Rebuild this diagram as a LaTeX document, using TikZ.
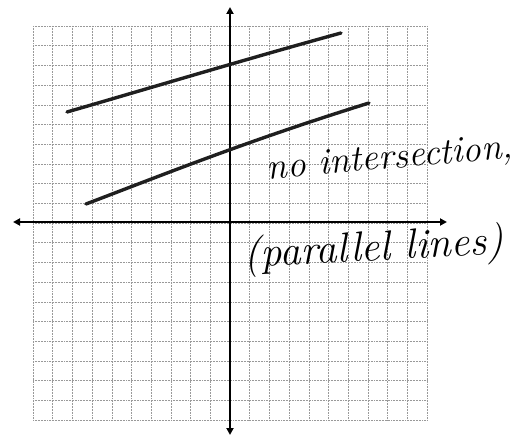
\documentclass[tikz,border=0pt]{standalone}
\usetikzlibrary{arrows.meta}
\begin{document}
\begin{tikzpicture}[x=1pt,y=-1pt,
  gridline/.style={gray!80,line width=0.55pt,densely dotted},
  axisline/.style={line width=2.8pt,{Triangle[length=7pt,width=7pt]}-{Triangle[length=7pt,width=7pt]}},
  penline/.style={line width=3.4pt,black!88,line cap=round},
  hand/.style={font=\itshape,inner sep=0pt}]
\useasboundingbox (0,0) rectangle (523,436);
% grid 20x20 cells
\foreach \i in {0,...,20}{
  \draw[gridline] (33+19.7*\i,26) -- (33+19.7*\i,420);
  \draw[gridline] (33,26+19.7*\i) -- (427,26+19.7*\i);
}
% axes
\coordinate (xl) at (13,222);
\coordinate (xr) at (447,222);
\coordinate (yt) at (230,7);
\coordinate (yb) at (230,435);
\draw[axisline] (xl) -- (xr);
\draw[axisline] (yb) -- (yt);
% parallel lines
\coordinate (a1) at (67,112);
\coordinate (a2) at (341,33);
\coordinate (b1) at (86,204);
\coordinate (b2) at (369,103);
\draw[penline] (a1) .. controls (150,88) and (250,58) .. (a2);
\draw[penline] (b1) .. controls (170,172) and (250,140) .. (b2);
% labels
\node[hand,font=\itshape\fontsize{37}{37}\selectfont,rotate=5] (t1) at (390,160) {no intersection,};
\node[hand,font=\itshape\fontsize{42}{42}\selectfont,rotate=3] (t2) at (374,250) {(parallel lines)};
\end{tikzpicture}
\end{document}
